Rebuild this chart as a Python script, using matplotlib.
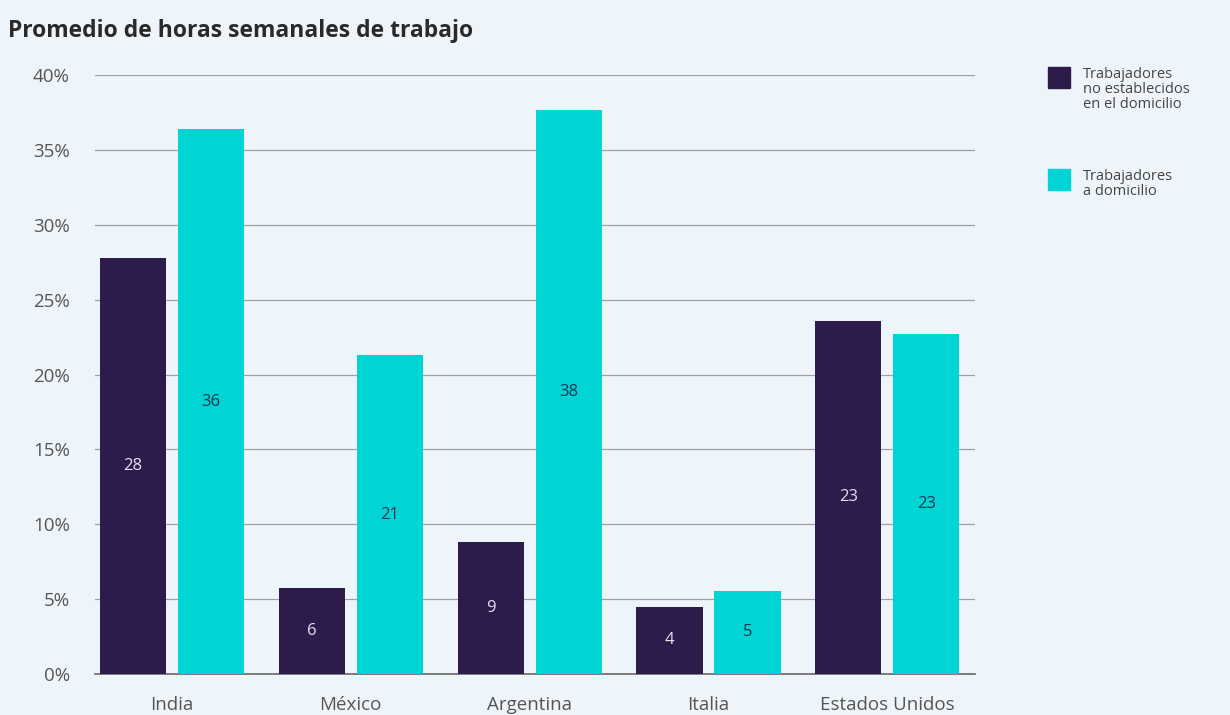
import matplotlib
matplotlib.use("Agg")
import matplotlib.pyplot as plt
import numpy as np
from matplotlib.patches import Rectangle

paises = ['India', 'México', 'Argentina', 'Italia', 'Estados Unidos']
no_domicilio = [27.8, 5.75, 8.8, 4.5, 23.6]
a_domicilio = [36.4, 21.3, 37.7, 5.55, 22.7]
etiq_no_dom = ['28', '6', '9', '4', '23']
etiq_dom = ['36', '21', '38', '5', '23']
yticks = [0, 5, 10, 15, 20, 25, 30, 35, 40]
serie_nombres = ['Trabajadores\nno establecidos\nen el domicilio', 'Trabajadores\na domicilio']

fondo = '#eef5fa'
oscuro = '#2d1b4c'
cian = '#00d4d4'

plt.rcParams['font.family'] = ['Open Sans', 'DejaVu Sans']

fig = plt.figure(figsize=(12.3, 7.15), dpi=100, facecolor=fondo)
ax = fig.add_axes([0.0772, 0.0573, 0.7155, 0.8377], facecolor=fondo)

x = np.arange(len(paises))
w = 0.37
off = 0.218
b1 = ax.bar(x - off, no_domicilio, w, color=oscuro, zorder=3)
b2 = ax.bar(x + off, a_domicilio, w, color=cian, zorder=3)

for rect, t in zip(b1, etiq_no_dom):
    ax.text(rect.get_x() + rect.get_width() / 2, rect.get_height() / 2, t,
            ha='center', va='center', color='#e6e0f0', fontsize=12, zorder=4)
for rect, t in zip(b2, etiq_dom):
    ax.text(rect.get_x() + rect.get_width() / 2, rect.get_height() / 2, t,
            ha='center', va='center', color='#1f3550', fontsize=12, zorder=4)

ax.set_xlim(-0.43, 4.49)
ax.set_ylim(0, 40)
ax.set_yticks(yticks)
ax.set_yticklabels([f'{v}%' for v in yticks])
ax.set_xticks(x)
ax.set_xticklabels(paises)
ax.tick_params(axis='both', length=0, colors='#555555')
ax.tick_params(axis='y', pad=18, labelsize=13.5)
ax.tick_params(axis='x', pad=16, labelsize=13.5)
ax.yaxis.grid(True, color='#a0a0a0', linewidth=0.9, zorder=0)
ax.set_axisbelow(True)
for s in ['top', 'right', 'left']:
    ax.spines[s].set_visible(False)
ax.spines['bottom'].set_color('#666666')
ax.spines['bottom'].set_linewidth(1.2)

fig.text(0.0065, 0.957, 'Promedio de horas semanales de trabajo', fontsize=16.5,
         fontweight='bold', color='#2a2a2a', va='center')

# leyenda a mano: cuadro alineado con la primera línea
leyenda = [(oscuro, 0.877, 0.906), (cian, 0.734, 0.763)]
for (col, ysq, ytx), nombre in zip(leyenda, serie_nombres):
    fig.add_artist(Rectangle((0.852, ysq), 0.0179, 0.0294, transform=fig.transFigure,
                             color=col))
    fig.text(0.8805, ytx, nombre, fontsize=10.5, color='#444444', va='top',
             linespacing=1.0)

fig.savefig('out.png', dpi=100, facecolor=fondo)
